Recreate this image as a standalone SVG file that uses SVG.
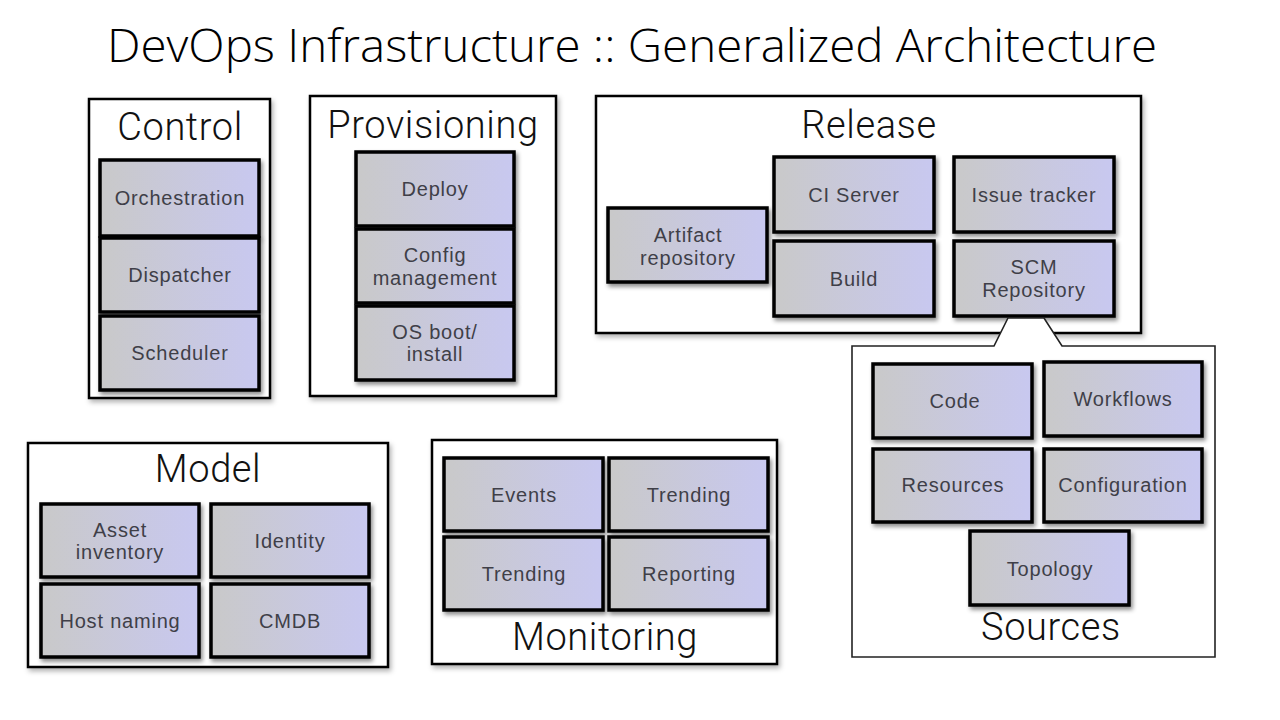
<svg xmlns="http://www.w3.org/2000/svg" width="1280" height="720" viewBox="0 0 1280 720">
<defs>
<linearGradient id="g" x1="0" y1="0" x2="1" y2="0">
<stop offset="0" stop-color="#c9c9c9"/>
<stop offset="1" stop-color="#c8c8f0"/>
</linearGradient>
<filter id="sh" x="-10%" y="-10%" width="125%" height="130%">
<feDropShadow dx="2" dy="3" stdDeviation="2" flood-color="#000" flood-opacity="0.45"/>
</filter>
<filter id="sh2" x="-5%" y="-5%" width="112%" height="115%">
<feDropShadow dx="2" dy="3" stdDeviation="2.5" flood-color="#000" flood-opacity="0.3"/>
</filter>
</defs>
<style>
.title{font-family:"Open Sans","Noto Sans",sans-serif;font-weight:300;font-size:46px;fill:#000}
.grp{fill:#fff;stroke:#000;stroke-width:2.5;filter:url(#sh2)}
.head{font-family:Roboto,"Liberation Sans",Arial,sans-serif;font-weight:300;font-size:38px;fill:#111;text-anchor:middle;letter-spacing:0.6px}
.box{fill:url(#g);stroke:#000;stroke-width:3.5;filter:url(#sh)}
.lbl{font-family:"Liberation Sans",Arial,sans-serif;font-size:20px;fill:#3f3f48;text-anchor:middle;letter-spacing:0.8px}
.callout{fill:#fff;stroke:#222;stroke-width:1.6}
</style>
<rect width="1280" height="720" fill="#fff"/>
<text class="title" x="107" y="62" textLength="1050" lengthAdjust="spacingAndGlyphs">DevOps Infrastructure :: Generalized Architecture</text>

<g id="control">
<rect class="grp" x="89" y="99" width="181" height="299"/>
<text class="head" x="180" y="140">Control</text>
<g id="orchestration"><rect class="box" x="100" y="160" width="159" height="76"/><text class="lbl" x="180" y="205">Orchestration</text></g>
<g id="dispatcher"><rect class="box" x="100" y="238" width="159" height="74"/><text class="lbl" x="180" y="282">Dispatcher</text></g>
<g id="scheduler"><rect class="box" x="100" y="316" width="159" height="74"/><text class="lbl" x="180" y="360">Scheduler</text></g>
</g>

<g id="provisioning">
<rect class="grp" x="310" y="96" width="246" height="300"/>
<text class="head" x="433" y="138">Provisioning</text>
<g id="deploy"><rect class="box" x="356" y="152" width="158" height="74"/><text class="lbl" x="435" y="196">Deploy</text></g>
<g id="config-mgmt"><rect class="box" x="356" y="229" width="158" height="74"/><text class="lbl" x="435" y="262">Config</text><text class="lbl" x="435" y="285">management</text></g>
<g id="os-boot"><rect class="box" x="356" y="306" width="158" height="74"/><text class="lbl" x="435" y="339">OS boot/</text><text class="lbl" x="435" y="361">install</text></g>
</g>

<g id="release">
<rect class="grp" x="596" y="96" width="545" height="237"/>
<text class="head" x="869" y="138">Release</text>
<g id="artifact"><rect class="box" x="608" y="208" width="159" height="74"/><text class="lbl" x="688" y="242">Artifact</text><text class="lbl" x="688" y="265">repository</text></g>
<g id="ci-server"><rect class="box" x="774" y="157" width="160" height="75"/><text class="lbl" x="854" y="202">CI Server</text></g>
<g id="issue-tracker"><rect class="box" x="954" y="157" width="160" height="75"/><text class="lbl" x="1034" y="202">Issue tracker</text></g>
<g id="build"><rect class="box" x="774" y="241" width="160" height="75"/><text class="lbl" x="854" y="286">Build</text></g>
<g id="scm"><rect class="box" x="954" y="241" width="160" height="75"/><text class="lbl" x="1034" y="274">SCM</text><text class="lbl" x="1034" y="297">Repository</text></g>
</g>

<g id="connectors">
<path class="callout" d="M852,346 L994,346 L1008,318 L1044,318 L1062,346 L1215,346 L1215,657 L852,657 Z"/>
</g>

<g id="sources">
<g id="code"><rect class="box" x="873" y="364" width="159" height="74"/><text class="lbl" x="955" y="408">Code</text></g>
<g id="workflows"><rect class="box" x="1044" y="362" width="158" height="74"/><text class="lbl" x="1123" y="406">Workflows</text></g>
<g id="resources"><rect class="box" x="873" y="449" width="159" height="73"/><text class="lbl" x="953" y="492">Resources</text></g>
<g id="configuration"><rect class="box" x="1044" y="449" width="158" height="73"/><text class="lbl" x="1123" y="492">Configuration</text></g>
<g id="topology"><rect class="box" x="970" y="531" width="159" height="74"/><text class="lbl" x="1050" y="576">Topology</text></g>
<text class="head" x="1051" y="640">Sources</text>
</g>

<g id="model">
<rect class="grp" x="28" y="443" width="360" height="224"/>
<text class="head" x="208" y="482">Model</text>
<g id="asset"><rect class="box" x="41" y="504" width="158" height="73"/><text class="lbl" x="120" y="537">Asset</text><text class="lbl" x="120" y="559">inventory</text></g>
<g id="identity"><rect class="box" x="211" y="504" width="158" height="73"/><text class="lbl" x="290" y="548">Identity</text></g>
<g id="host-naming"><rect class="box" x="41" y="584" width="158" height="73"/><text class="lbl" x="120" y="628">Host naming</text></g>
<g id="cmdb"><rect class="box" x="211" y="584" width="158" height="73"/><text class="lbl" x="290" y="628">CMDB</text></g>
</g>

<g id="monitoring">
<rect class="grp" x="432" y="440" width="345" height="224"/>
<g id="events"><rect class="box" x="444" y="458" width="159" height="73"/><text class="lbl" x="524" y="502">Events</text></g>
<g id="trending1"><rect class="box" x="609" y="458" width="159" height="73"/><text class="lbl" x="689" y="502">Trending</text></g>
<g id="trending2"><rect class="box" x="444" y="537" width="159" height="73"/><text class="lbl" x="524" y="581">Trending</text></g>
<g id="reporting"><rect class="box" x="609" y="537" width="159" height="73"/><text class="lbl" x="689" y="581">Reporting</text></g>
<text class="head" x="605" y="650">Monitoring</text>
</g>
</svg>
